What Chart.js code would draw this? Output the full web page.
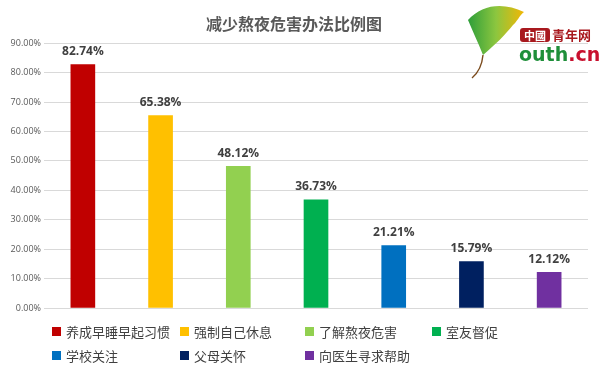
<!DOCTYPE html>
<html>
<head>
<meta charset="utf-8">
<script src="https://cdn.jsdelivr.net/npm/chart.js@4"></script>
<style>
  html, body { margin: 0; padding: 0; background: #fff; }
  #wrap { position: relative; width: 600px; height: 373px; }
  #legend {
    position: absolute; left: 52px; top: 322px;
    display: grid; grid-template-columns: 128px 125px 127px 120px;
    row-gap: 5px;
    font: 13px "Noto Sans CJK SC", sans-serif; color: #404040;
  }
  #legend .item { display: flex; align-items: center; height: 19px; white-space: nowrap; }
  #legend .box { width: 9px; height: 9px; margin-right: 5px; }
  #logo { position: absolute; left: 462px; top: 0; }
</style>
</head>
<body>
<div id="wrap">
  <canvas id="barChart" width="600" height="373"></canvas>
  <div id="legend"></div>
  <svg id="logo" width="138" height="82" viewBox="0 0 138 82">
    <defs>
      <linearGradient id="leaf" x1="0" y1="0" x2="1" y2="0">
        <stop offset="0" stop-color="#2e9e3a"/>
        <stop offset="0.5" stop-color="#8cc63f"/>
        <stop offset="1" stop-color="#f2b705"/>
      </linearGradient>
    </defs>
    <path d="M6 20 C 20 4, 42 2, 62 12 C 57 16, 55 22, 51 25 C 43 35, 34 44, 21 55 C 16 42, 10 30, 6 20 Z" fill="url(#leaf)"/>
    <path d="M21 55 C 20 66, 16 73, 10 78" stroke="#7a4a1c" stroke-width="1.4" fill="none"/>
    <rect x="58" y="28" width="30" height="14" rx="3" fill="#a8191e"/>
    <text x="73" y="39.5" text-anchor="middle" font-family="Noto Sans CJK SC" font-size="11" font-weight="bold" fill="#fff">中國</text>
    <text x="90" y="40" font-family="Noto Sans CJK SC" font-size="13" font-weight="bold" fill="#a8191e">青年网</text>
    <text x="57" y="61" font-family="DejaVu Sans" font-size="19" font-weight="bold" fill="#1f8f3a">outh<tspan fill="#c8102e">.cn</tspan></text>
  </svg>
</div>
<script>
const categories = ['养成早睡早起习惯', '强制自己休息', '了解熬夜危害', '室友督促', '学校关注', '父母关怀', '向医生寻求帮助'];
const values = [82.74, 65.38, 48.12, 36.73, 21.21, 15.79, 12.12];
const colors = ['#C00000', '#FFC000', '#92D050', '#00B050', '#0070C0', '#002060', '#7030A0'];

// Values above each bar
const valueLabels = {
    id: 'valueLabels',
    afterDatasetsDraw(chart) {
        const ctx = chart.ctx;
        const meta = chart.getDatasetMeta(0);
        ctx.save();
        ctx.font = 'bold 12px "Open Sans", "Noto Sans CJK SC", sans-serif';
        ctx.fillStyle = '#404040';
        ctx.textAlign = 'center';
        ctx.textBaseline = 'bottom';
        meta.data.forEach((bar, i) => {
            ctx.fillText(values[i].toFixed(2) + '%', bar.x, bar.y - 7);
        });
        ctx.restore();
    }
};

const ctxBar = document.getElementById('barChart').getContext('2d');
new Chart(ctxBar, {
    type: 'bar',
    data: {
        labels: categories,
        datasets: [{
            data: values,
            backgroundColor: colors,
            barThickness: 24,
        }]
    },
    options: {
        responsive: false,
        animation: false,
        layout: { padding: { left: 0, right: 12, top: 0, bottom: 65 } },
        plugins: {
            legend: { display: false },
            tooltip: { enabled: false },
            title: {
                display: true,
                text: '减少熬夜危害办法比例图',
                color: '#595959',
                font: { size: 16, weight: 'bold', family: '"Noto Sans CJK SC", sans-serif' },
                padding: { top: 14, bottom: 10 }
            }
        },
        scales: {
            x: {
                grid: { display: false },
                border: { display: false },
                ticks: { display: false },
                afterFit: (s) => { s.height = 0; }
            },
            y: {
                min: 0,
                max: 90,
                ticks: {
                    stepSize: 10,
                    color: '#595959',
                    font: { size: 9, family: '"Open Sans", sans-serif' },
                    callback: (v) => v.toFixed(2) + '%'
                },
                grid: { color: '#d9d9d9', drawTicks: false },
                border: { display: false },
                afterFit: (s) => { s.width = 44; }
            }
        }
    },
    plugins: [valueLabels]
});

// Legend laid out in columns
const legend = document.getElementById('legend');
categories.forEach((name, i) => {
    const item = document.createElement('div');
    item.className = 'item';
    item.innerHTML = '<span class="box" style="background:' + colors[i] + '"></span>' + name;
    legend.appendChild(item);
});
</script>
</body>
</html>
